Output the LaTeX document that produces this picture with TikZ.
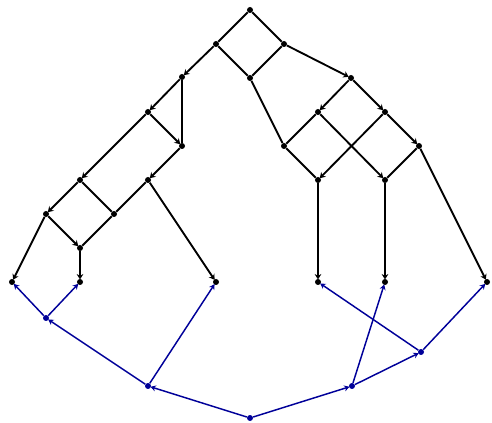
\documentclass[tikz,border=0pt]{standalone}
\usetikzlibrary{arrows.meta}
\definecolor{navyblue}{HTML}{000099}

\begin{document}
\begin{tikzpicture}[x=0.75pt,y=-0.75pt,
  dot/.style={circle,fill=#1,inner sep=0pt,minimum size=4.5pt},
  dot/.default=black,
  edge/.style={line width=1.4pt,black},
  down/.style={edge,-{Stealth[length=4pt,width=5pt]},shorten >=-0.5pt},
  up/.style={-{Stealth[length=4pt,width=4.5pt]},shorten >=-0.5pt,line width=1.1pt,navyblue}]
\useasboundingbox (0,0) rectangle (492,423);
% upper lattice
\foreach \n/\x/\y in {t/250/10,a/216/44,b/284/44,c/250/78,d/182/77,e/351/78,
  f/148/112,g/182/146,h/80/180,i/148/180,j/46/214,k/114/214,l/80/248,
  m/12/282,n/80/282,o/216/282,p/284/146,q/318/112,r/385/112,s/419/146,
  u/318/180,w/385/180,x/318/282,y/385/282,z/487/282}{\node[dot] (\n) at (\x,\y) {};}
\foreach \s/\e in {t/a,t/b,a/c,b/c,d/g,h/k,i/k,k/l,c/p,q/p,p/u,s/w}
  {\draw[edge] (\s)--(\e);}
\foreach \s/\e in {a/d,b/e,d/f,f/g,f/h,g/i,h/j,j/l,j/m,l/n,i/o,e/q,e/r,r/s,
  r/u,q/w,u/x,w/y,s/z}
  {\draw[down] (\s)--(\e);}
% lower tree
\foreach \n/\x/\y in {r0/250/418,r1/148/386,r2/352/386,r3/46/318,r4/421/352}{\node[dot=navyblue] (\n) at (\x,\y) {};}
\foreach \s/\e in {r0/r1,r0/r2,r1/r3,r1/o,r3/m,r3/n,r2/r4,r2/y,r4/x,r4/z}
  {\draw[up] (\s)--(\e);}
\end{tikzpicture}
\end{document}
